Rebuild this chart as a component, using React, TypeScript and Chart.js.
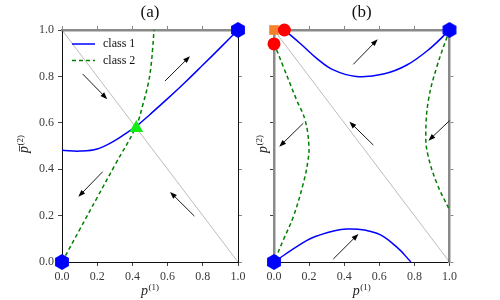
import { useEffect, useRef } from "react";
import { Chart, registerables } from "chart.js";

Chart.register(...registerables);

// ---------- data ----------
const tickValues = [0, 0.2, 0.4, 0.6, 0.8, 1.0];
const titles = ["(a)", "(b)"];
const legendLabels = ["class 1", "class 2"];

const diagX = [0, 1];
const diagY = [1, 0];

// panel (a)
const aClass1X = [0, 0.1, 0.2, 0.3, 0.386, 0.42, 0.5, 0.6, 0.7, 0.8, 0.9, 1.0];
const aClass1Y = [0.482, 0.478, 0.487, 0.523, 0.566, 0.583, 0.636, 0.704, 0.775, 0.849, 0.924, 1.0];
const aClass2X = [0, 0.1, 0.2, 0.3, 0.42, 0.46, 0.49, 0.505, 0.515, 0.523];
const aClass2Y = [0, 0.139, 0.278, 0.417, 0.583, 0.68, 0.77, 0.84, 0.92, 1.0];
const aStableX = [0, 1];
const aStableY = [0, 1];
const aSaddleX = [0.422];
const aSaddleY = [0.578];
const aArrowX0 = [0.118, 0.585, 0.231, 0.752];
const aArrowY0 = [0.81, 0.78, 0.389, 0.198];
const aArrowX1 = [0.257, 0.727, 0.093, 0.614];
const aArrowY1 = [0.702, 0.887, 0.281, 0.302];

// panel (b)
const bClass1TopX = [0.06, 0.148, 0.243, 0.338, 0.468, 0.623, 0.757, 0.89, 1.0];
const bClass1TopY = [1.0, 0.943, 0.878, 0.828, 0.8, 0.81, 0.849, 0.921, 1.0];
const bClass1BotX = [0, 0.148, 0.243, 0.415, 0.586, 0.7, 0.78];
const bClass1BotY = [0, 0.075, 0.112, 0.142, 0.124, 0.064, 0];
const bClass2LeftX = [0, 0.053, 0.129, 0.177, 0.199, 0.192, 0.167, 0.11, 0.053, 0];
const bClass2LeftY = [0.943, 0.842, 0.698, 0.612, 0.5, 0.43, 0.339, 0.195, 0.095, 0];
const bClass2RightX = [1.0, 0.928, 0.88, 0.865, 0.875, 0.928, 1.0];
const bClass2RightY = [1.0, 0.842, 0.698, 0.555, 0.468, 0.339, 0.224];
const bStableX = [0, 1];
const bStableY = [0, 1];
const bRedX = [0.059, 0];
const bRedY = [1.0, 0.94];
const bOrangeX = [0];
const bOrangeY = [1.0];
const bArrowX0 = [0.452, 0.167, 0.566, 1.0, 0.338];
const bArrowY0 = [0.852, 0.598, 0.504, 0.609, 0.013];
const bArrowX1 = [0.591, 0.03, 0.43, 0.88, 0.481];
const bArrowY1 = [0.96, 0.497, 0.605, 0.523, 0.121];

// ---------- helpers ----------
const FONT = '"Liberation Serif", serif';
const pts = (xs: number[], ys: number[]) => xs.map((x, i) => ({ x, y: ys[i] }));

function makeHex(R: number, color: string) {
  const c = document.createElement("canvas");
  const s = Math.ceil(R * 2 + 2);
  c.width = s;
  c.height = s;
  const g = c.getContext("2d")!;
  g.fillStyle = color;
  g.beginPath();
  for (let k = 0; k < 6; k++) {
    const a = Math.PI / 2 + (k * Math.PI) / 3;
    const px = s / 2 + R * Math.cos(a);
    const py = s / 2 - R * Math.sin(a);
    if (k === 0) g.moveTo(px, py);
    else g.lineTo(px, py);
  }
  g.closePath();
  g.fill();
  return c;
}

function axis(position: string, labels: boolean, size: number, borderColor: string, borderWidth: number, tickColor: string) {
  const horizontal = position === "top" || position === "bottom";
  return {
    type: "linear",
    axis: horizontal ? "x" : "y",
    position,
    min: 0,
    max: 1,
    afterBuildTicks: (s: any) => {
      s.ticks = tickValues.map((v) => ({ value: v }));
    },
    afterFit: (s: any) => {
      if (horizontal) s.height = size;
      else s.width = size;
      s.paddingLeft = 0;
      s.paddingRight = 0;
      s.paddingTop = 0;
      s.paddingBottom = 0;
    },
    ticks: {
      display: labels,
      padding: 4,
      autoSkip: false,
      maxRotation: 0,
      font: { family: FONT, size: 12 },
      color: "#3a3a3a",
      callback: (v: any) => Number(v).toFixed(1),
    },
    grid: { display: true, drawOnChartArea: false, drawTicks: true, tickLength: 4, color: tickColor, lineWidth: 1 },
    border: { display: true, color: borderColor, width: borderWidth },
  };
}

function drawArrow(ctx: CanvasRenderingContext2D, x0: number, y0: number, x1: number, y1: number) {
  const dx = x1 - x0, dy = y1 - y0;
  const L = Math.hypot(dx, dy);
  const ux = dx / L, uy = dy / L;
  const hl = 7, hw = 2.6;
  const bx = x1 - ux * hl, by = y1 - uy * hl;
  ctx.beginPath();
  ctx.moveTo(x0, y0);
  ctx.lineTo(bx + ux, by + uy);
  ctx.lineWidth = 0.9;
  ctx.strokeStyle = "#000";
  ctx.stroke();
  ctx.beginPath();
  ctx.moveTo(x1, y1);
  ctx.lineTo(bx - uy * hw, by + ux * hw);
  ctx.lineTo(bx + uy * hw, by - ux * hw);
  ctx.closePath();
  ctx.fillStyle = "#000";
  ctx.fill();
}

function drawP(ctx: CanvasRenderingContext2D, cx: number, cy: number, sup: string, bar: boolean, rotate: boolean) {
  ctx.save();
  ctx.translate(cx, cy);
  if (rotate) ctx.rotate(-Math.PI / 2);
  ctx.fillStyle = "#222";
  ctx.textBaseline = "alphabetic";
  ctx.textAlign = "left";
  ctx.font = `italic 14px ${FONT}`;
  const pW = ctx.measureText("p").width;
  ctx.font = `9px ${FONT}`;
  const sW = ctx.measureText(sup).width;
  const total = pW + sW + 0.5;
  const x0 = -total / 2;
  ctx.font = `italic 14px ${FONT}`;
  ctx.fillText("p", x0, 3);
  if (bar) {
    ctx.beginPath();
    ctx.moveTo(x0 + 1.5, -5.5);
    ctx.lineTo(x0 + pW + 0.5, -5.5);
    ctx.lineWidth = 0.8;
    ctx.strokeStyle = "#222";
    ctx.stroke();
  }
  ctx.font = `9px ${FONT}`;
  ctx.fillText(sup, x0 + pW + 0.5, -2.5);
  ctx.restore();
}

function decorPlugin(cfg: any) {
  return {
    id: "decor" + cfg.title,
    afterDatasetsDraw(chart: any) {
      const ctx: CanvasRenderingContext2D = chart.ctx;
      const a = chart.chartArea;
      const xs = chart.scales.x;
      const ys = chart.scales.y;
      ctx.save();
      for (let i = 0; i < cfg.x0.length; i++) {
        drawArrow(
          ctx,
          xs.getPixelForValue(cfg.x0[i]),
          ys.getPixelForValue(cfg.y0[i]),
          xs.getPixelForValue(cfg.x1[i]),
          ys.getPixelForValue(cfg.y1[i])
        );
      }
      // title
      ctx.font = `17px ${FONT}`;
      ctx.fillStyle = "#111";
      ctx.textAlign = "center";
      ctx.textBaseline = "middle";
      ctx.fillText(cfg.title, (a.left + a.right) / 2, 13);
      // axis labels
      drawP(ctx, (a.left + a.right) / 2, 292, "(1)", false, false);
      drawP(ctx, cfg.yLabelX, (a.top + a.bottom) / 2 - 2, "(2)", cfg.bar, true);
      // legend
      if (cfg.legend) {
        const rows = [
          { color: "#0000ff", dash: [] as number[] },
          { color: "#008000", dash: [4, 3] },
        ];
        rows.forEach((r, i) => {
          const y = a.top + 14 + i * 16.5;
          ctx.beginPath();
          ctx.setLineDash(r.dash);
          ctx.moveTo(a.left + 10, y);
          ctx.lineTo(a.left + 33, y);
          ctx.lineWidth = 1.5;
          ctx.strokeStyle = r.color;
          ctx.stroke();
          ctx.setLineDash([]);
          ctx.font = `12px ${FONT}`;
          ctx.fillStyle = "#111";
          ctx.textAlign = "left";
          ctx.textBaseline = "middle";
          ctx.fillText(legendLabels[i], a.left + 41, y);
        });
      }
      ctx.restore();
    },
  };
}

const lineDs = (data: any, color: string, dash: number[], order: number) => ({
  data,
  showLine: true,
  borderColor: color,
  backgroundColor: color,
  borderWidth: 1.5,
  borderDash: dash,
  pointRadius: 0,
  tension: 0.4,
  clip: false,
  order,
});

const markerDs = (data: any, style: any, color: string, radius: number, order: number) => ({
  data,
  showLine: false,
  pointStyle: style,
  pointRadius: radius,
  pointBackgroundColor: color,
  pointBorderColor: color,
  pointBorderWidth: 0,
  clip: false,
  order,
});

const diagDs = () => ({
  data: pts(diagX, diagY),
  showLine: true,
  borderColor: "rgba(0,0,0,0.45)",
  borderWidth: 0.6,
  pointRadius: 0,
  tension: 0,
  clip: false,
  order: 5,
});

const baseOptions = (scales: any) => ({
  responsive: false,
  animation: false,
  events: [],
  layout: { padding: 0 },
  plugins: { legend: { display: false }, tooltip: { enabled: false }, title: { display: false } },
  scales,
});

export default function App() {
  const refA = useRef<HTMLCanvasElement>(null);
  const refB = useRef<HTMLCanvasElement>(null);

  useEffect(() => {
    const hex = makeHex(8, "#0000ff");

    const chartA = new Chart(refA.current!, {
      type: "scatter",
      data: {
        datasets: [
          markerDs(pts(aStableX, aStableY), hex, "#0000ff", 8, 0),
          markerDs(pts(aSaddleX, aSaddleY), "triangle", "#11ee11", 8, 0),
          lineDs(pts(aClass1X, aClass1Y), "#0000ff", [], 2),
          lineDs(pts(aClass2X, aClass2Y), "#008000", [4, 3], 2),
          diagDs(),
        ] as any,
      },
      options: baseOptions({
        x: axis("bottom", true, 38, "#111", 1, "#444"),
        y: axis("left", true, 62, "#111", 1, "#444"),
        x2: axis("top", false, 30, "#8a8a8a", 2.5, "#888"),
        y2: axis("right", false, 12, "#111", 1, "#888"),
      }) as any,
      plugins: [
        decorPlugin({
          title: titles[0],
          x0: aArrowX0, y0: aArrowY0, x1: aArrowX1, y1: aArrowY1,
          yLabelX: 25, bar: true, legend: true,
        }),
      ],
    });

    const chartB = new Chart(refB.current!, {
      type: "scatter",
      data: {
        datasets: [
          markerDs(pts(bStableX, bStableY), hex, "#0000ff", 8, 0),
          markerDs(pts(bRedX, bRedY), "circle", "#ff0000", 6.5, 0),
          markerDs(pts(bOrangeX, bOrangeY), "rect", "#f5822a", 6.8, 1),
          lineDs(pts(bClass1TopX, bClass1TopY), "#0000ff", [], 2),
          lineDs(pts(bClass1BotX, bClass1BotY), "#0000ff", [], 2),
          lineDs(pts(bClass2LeftX, bClass2LeftY), "#008000", [4, 3], 2),
          lineDs(pts(bClass2RightX, bClass2RightY), "#008000", [4, 3], 2),
          diagDs(),
        ] as any,
      },
      options: baseOptions({
        x: axis("bottom", true, 38, "#111", 1, "#444"),
        y: axis("left", false, 24, "#8a8a8a", 2.5, "#444"),
        x2: axis("top", false, 30, "#8a8a8a", 2.5, "#888"),
        y2: axis("right", false, 50.5, "#8a8a8a", 2.5, "#888"),
      }) as any,
      plugins: [
        decorPlugin({
          title: titles[1],
          x0: bArrowX0, y0: bArrowY0, x1: bArrowX1, y1: bArrowY1,
          yLabelX: 14, bar: false, legend: false,
        }),
      ],
    });

    return () => {
      chartA.destroy();
      chartB.destroy();
    };
  }, []);

  return (
    <div style={{ position: "fixed", left: 0, top: 0, width: 500, height: 300, background: "#fff" }}>
      <canvas ref={refA} width={250} height={300} style={{ position: "absolute", left: 0, top: 0, width: 250, height: 300 }} />
      <canvas ref={refB} width={250} height={300} style={{ position: "absolute", left: 250, top: 0, width: 250, height: 300 }} />
    </div>
  );
}
